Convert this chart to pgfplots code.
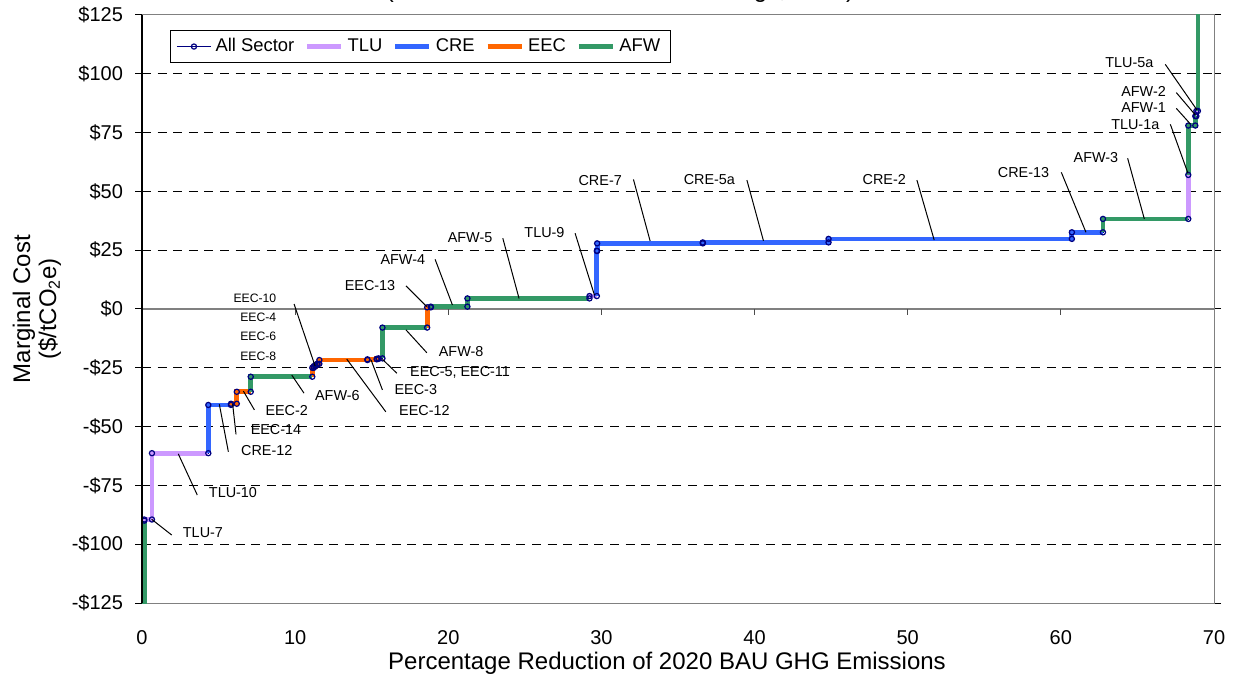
\documentclass[border=0pt]{standalone}
\usepackage{fontspec}
\setmainfont{Liberation Sans}
\usepackage{pgfplots}
\usepackage{pgfplotstable}
\pgfplotsset{compat=1.18}

\definecolor{tlu}{RGB}{204,153,255}
\definecolor{cre}{RGB}{51,102,255}
\definecolor{eec}{RGB}{255,102,0}
\definecolor{afw}{RGB}{51,153,102}
\definecolor{navyc}{RGB}{0,0,128}

\tikzset{
  lab/.style={font=\fontsize{7.2}{8}\selectfont},
  slab/.style={font=\fontsize{6.1}{7}\selectfont, anchor=east},
  ld/.style={black, line width=0.5pt},
}

% cumulative reduction (%) and marginal cost ($/tCO2e), step corners
\pgfplotstableread{
x y
0 -200
0.15 -200
0.15 -90
0.15 -89.5
0.65 -89.5
0.65 -61.3
4.33 -61.3
4.33 -40.8
5.81 -40.8
5.81 -40.3
6.19 -40.3
6.19 -35.2
7.10 -35.2
7.10 -28.8
11.12 -28.8
11.12 -25.0
11.22 -25.0
11.22 -24.3
11.32 -24.3
11.32 -23.8
11.45 -23.8
11.45 -23.3
11.58 -23.3
11.58 -21.7
14.72 -21.7
14.72 -21.4
15.33 -21.4
15.33 -21.2
15.45 -21.2
15.45 -21.0
15.70 -21.0
15.70 -7.9
18.62 -7.9
18.62 0.7
18.86 0.7
18.86 1.0
21.25 1.0
21.25 4.5
29.22 4.5
29.22 5.5
29.70 5.5
29.70 24.7
29.72 24.7
29.72 27.9
36.62 27.9
36.62 28.3
44.83 28.3
44.83 29.8
60.72 29.8
60.72 32.6
62.75 32.6
62.75 38.3
68.32 38.3
68.32 57.0
68.32 78.0
68.78 78.0
68.78 82.0
68.85 82.0
68.85 84.2
68.95 84.2
68.95 200
70 200
}\allsector

\begin{document}
\begin{tikzpicture}
\begin{axis}[
  scale only axis, width=536pt, height=294pt,
  xmin=0, xmax=70, ymin=-125, ymax=125,
  xtick={0,10,...,70}, xticklabels={0,10,20,30,40,50,60,70},
  ytick={-125,-100,...,125},
  yticklabels={-\$125,-\$100,-\$75,-\$50,-\$25,\$0,\$25,\$50,\$75,\$100,\$125},
  ymajorgrids,
  major grid style={black, line width=0.5pt, dash pattern=on 4.5pt off 3.3pt},
  axis line style={gray, line width=0.5pt},
  tick align=outside, major tick length=3.5pt,
  xtick style={draw=none}, ytick style={black, line width=0.5pt},
  tick label style={font=\fontsize{10}{12}\selectfont},
  yticklabel style={xshift=-2.5pt},
  xticklabel style={yshift=-6.5pt},
  clip mode=individual,
  unbounded coords=jump,
  legend columns=5,
  legend style={at={(rel axis cs:0.0261,0.9745)}, anchor=north west,
    draw=black, font=\fontsize{9.2}{11}\selectfont,
    inner xsep=3pt, inner ysep=2pt,
    /tikz/every even column/.append style={column sep=3.3pt}},
  legend image code/.code={\draw[mark repeat=2,mark phase=2,#1]
    plot coordinates {(0pt,0pt)(8.5pt,0pt)(17pt,0pt)};},
]
\coordinate (SW) at (rel axis cs:0,0);
\coordinate (NE) at (rel axis cs:1,1);

\addlegendimage{navyc, line width=0.6pt, mark=o, mark size=1.3pt}
\addlegendentry{All Sector}
\addlegendimage{tlu, line width=2.4pt}
\addlegendentry{TLU}
\addlegendimage{cre, line width=2.4pt}
\addlegendentry{CRE}
\addlegendimage{eec, line width=2.4pt}
\addlegendentry{EEC}
\addlegendimage{afw, line width=2.4pt}
\addlegendentry{AFW}

\draw[gray, line width=0.6pt] (axis cs:0,0) -- (axis cs:70,0);
\pgfplotsinvokeforeach{10,20,30,40,50,60}{
  \draw[gray!60!black, line width=0.5pt] (axis cs:#1,0) -- ++(0pt,-3pt);
}

\addplot[navyc, line width=0.6pt, forget plot] table {\allsector};

\addplot[tlu, line width=2.4pt, forget plot] coordinates {
 (0.15,-90) (0.15,-89.5) (0.65,-89.5) (0.65,-61.3) (4.33,-61.3) (4.33,nan)
 (29.22,4.5) (29.22,5.5) (29.70,5.5) (29.70,nan)
 (68.32,38.3) (68.32,57.0) (68.32,nan)
 (68.85,82.0) (68.85,84.2) (68.95,84.2)
};
\addplot[cre, line width=2.4pt, forget plot] coordinates {
 (4.33,-61.3) (4.33,-40.8) (5.81,-40.8) (5.81,nan)
 (29.70,5.5) (29.70,24.7) (29.72,24.7) (29.72,27.9) (36.62,27.9) (36.62,28.3)
 (44.83,28.3) (44.83,29.8) (60.72,29.8) (60.72,32.6) (62.75,32.6)
};
\addplot[eec, line width=2.4pt, forget plot] coordinates {
 (5.81,-40.8) (5.81,-40.3) (6.19,-40.3) (6.19,-35.2) (7.10,-35.2) (7.10,nan)
 (11.12,-28.8) (11.12,-25.0) (11.22,-25.0) (11.22,-24.3) (11.32,-24.3)
 (11.32,-23.8) (11.45,-23.8) (11.45,-23.3) (11.58,-23.3) (11.58,-21.7)
 (14.72,-21.7) (14.72,-21.4) (15.33,-21.4) (15.33,-21.2) (15.45,-21.2)
 (15.45,-21.0) (15.70,-21.0) (15.70,nan)
 (18.62,-7.9) (18.62,0.7) (18.86,0.7)
};
\addplot[afw, line width=2.4pt, forget plot] coordinates {
 (0,-200) (0.15,-200) (0.15,-90) (0.15,nan)
 (7.10,-35.2) (7.10,-28.8) (11.12,-28.8) (11.12,nan)
 (15.70,-21.0) (15.70,-7.9) (18.62,-7.9) (18.62,nan)
 (18.86,0.7) (18.86,1.0) (21.25,1.0) (21.25,4.5) (29.22,4.5) (29.22,nan)
 (62.75,32.6) (62.75,38.3) (68.32,38.3) (68.32,nan)
 (68.32,57.0) (68.32,78.0) (68.78,78.0) (68.78,82.0) (68.85,82.0) (68.85,nan)
 (68.95,84.2) (68.95,200)
};

\addplot[only marks, mark=o, mark size=1.3pt, navyc, line width=0.6pt,
  restrict y to domain=-126:126, forget plot] table {\allsector};

\draw[black, line width=0.6pt] (rel axis cs:0,0) -- (rel axis cs:0,1);

% measure labels
\node[lab] at (axis cs:3.98,-95.2) {TLU-7};
\draw[ld] (axis cs:0.63,-89.4) -- (axis cs:1.94,-96.1);
\node[lab] at (axis cs:5.94,-78.2) {TLU-10};
\draw[ld] (axis cs:2.37,-61.6) -- (axis cs:3.61,-79.1);
\node[lab] at (axis cs:8.15,-60.2) {CRE-12};
\draw[ld] (axis cs:5.05,-40.5) -- (axis cs:5.64,-60.7);
\node[lab] at (axis cs:8.75,-51.4) {EEC-14};
\draw[ld] (axis cs:5.92,-40.5) -- (axis cs:6.14,-53.3);
\node[lab] at (axis cs:9.45,-43.2) {EEC-2};
\draw[ld] (axis cs:6.62,-34.9) -- (axis cs:7.34,-42.9);
\node[lab] at (axis cs:12.76,-36.6) {AFW-6};
\draw[ld] (axis cs:9.78,-28.1) -- (axis cs:10.58,-35.8);
\node[slab] at (axis cs:9.23,4.5) {EEC-10};
\node[slab] at (axis cs:9.23,-3.5) {EEC-4};
\node[slab] at (axis cs:9.23,-11.8) {EEC-6};
\node[slab] at (axis cs:9.23,-19.9) {EEC-8};
\draw[ld] (axis cs:9.93,2.1) -- (axis cs:11.30,-24.2);
\node[lab] at (axis cs:18.44,-43.2) {EEC-12};
\draw[ld] (axis cs:13.37,-21.3) -- (axis cs:15.92,-43.7);
\node[lab] at (axis cs:17.88,-34.4) {EEC-3};
\draw[ld] (axis cs:14.96,-21.7) -- (axis cs:15.70,-34.4);
\node[lab] at (axis cs:20.77,-27.1) {EEC-5, EEC-11};
\draw[ld] (axis cs:15.70,-21.4) -- (axis cs:16.64,-27.3);
\node[lab] at (axis cs:20.84,-18.2) {AFW-8};
\draw[ld] (axis cs:17.24,-8.9) -- (axis cs:18.60,-18.6);
\node[lab] at (axis cs:14.89,9.8) {EEC-13};
\draw[ld] (axis cs:17.24,9.8) -- (axis cs:18.60,1.0);
\node[lab] at (axis cs:17.03,21.1) {AFW-4};
\draw[ld] (axis cs:19.14,21.1) -- (axis cs:20.27,1.7);
\node[lab] at (axis cs:21.42,30.3) {AFW-5};
\draw[ld] (axis cs:23.56,30.1) -- (axis cs:24.62,4.5);
\node[lab] at (axis cs:26.28,32.4) {TLU-9};
\draw[ld] (axis cs:28.28,32.2) -- (axis cs:29.54,6.0);
\node[lab] at (axis cs:29.92,54.8) {CRE-7};
\draw[ld] (axis cs:32.09,55.1) -- (axis cs:33.18,28.9);
\node[lab] at (axis cs:37.05,55.1) {CRE-5a};
\draw[ld] (axis cs:39.50,54.8) -- (axis cs:40.58,29.0);
\node[lab] at (axis cs:48.47,55.1) {CRE-2};
\draw[ld] (axis cs:50.60,54.8) -- (axis cs:51.73,29.3);
\node[lab] at (axis cs:57.56,58.1) {CRE-13};
\draw[ld] (axis cs:60.03,58.1) -- (axis cs:61.64,32.6);
\node[lab] at (axis cs:62.29,64.5) {AFW-3};
\draw[ld] (axis cs:64.36,64.1) -- (axis cs:65.45,38.3);
\node[lab] at (axis cs:64.86,78.2) {TLU-1a};
\draw[ld] (axis cs:67.15,78.5) -- (axis cs:68.30,57.7);
\node[lab] at (axis cs:65.40,85.6) {AFW-1};
\draw[ld] (axis cs:67.54,85.3) -- (axis cs:68.45,78.7);
\node[lab] at (axis cs:65.40,92.4) {AFW-2};
\draw[ld] (axis cs:67.54,92.0) -- (axis cs:68.78,82.5);
\node[lab] at (axis cs:64.47,104.7) {TLU-5a};
\draw[ld] (axis cs:66.82,104.0) -- (axis cs:68.89,84.6);
\end{axis}

\node[font=\fontsize{12}{13}\selectfont] at ([shift={(262.5pt,-30pt)}]SW)
  {Percentage Reduction of 2020 BAU GHG Emissions};
\node[rotate=90, align=center, font=\fontsize{12}{13}\selectfont]
  at ([shift={(-52.5pt,147pt)}]SW) {Marginal Cost\\(\$/tCO\textsubscript{2}e)};
\node[anchor=base, font=\fontsize{12}{13}\selectfont]
  at ([shift={(239pt,302.6pt)}]SW) {(Cumulative Reductions and Savings, 2020)};

\pgfresetboundingbox
\useasboundingbox ([shift={(-71pt,-38pt)}]SW) rectangle ([shift={(9.5pt,7.5pt)}]NE);
\end{tikzpicture}
\end{document}
